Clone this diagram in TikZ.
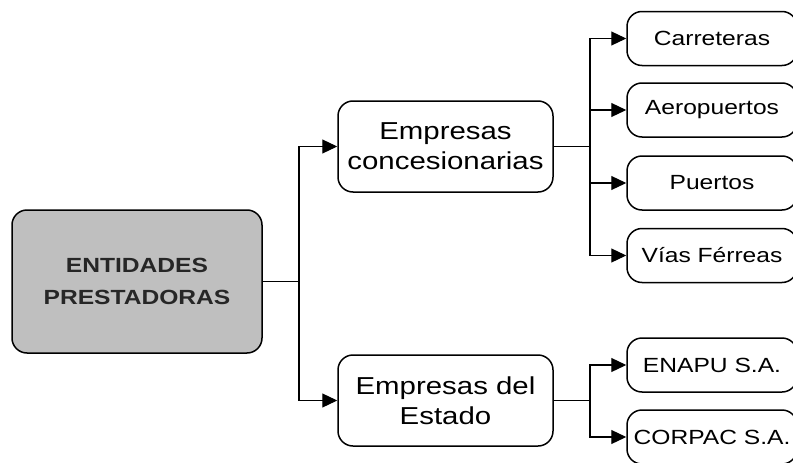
\documentclass[tikz,border=0pt]{standalone}
\usepackage{fontspec}
\setmainfont{Liberation Sans}[FakeStretch=1.2]
\usetikzlibrary{arrows.meta}
\tikzset{
  box/.style={draw=black, line width=1.5pt, rounded corners=15pt, align=center, inner sep=0pt},
  rootbox/.style={box, fill=gray!50, minimum width=250pt, minimum height=143pt,
    font=\fontsize{20.5}{32}\selectfont\bfseries, text=black!85},
  midbox/.style={box, fill=white, minimum width=215pt, minimum height=91pt,
    font=\fontsize{24.5}{30}\selectfont},
  leafbox/.style={box, fill=white, minimum width=170pt, minimum height=54pt,
    font=\fontsize{20.5}{24}\selectfont},
  conn/.style={line width=1.2pt},
  arr/.style={conn, -{Triangle[length=15pt,width=14pt]}},
}
\begin{document}
\begin{tikzpicture}[x=1pt,y=-1pt]
\useasboundingbox (0,0) rectangle (793,463);
\clip (0,0) rectangle (793,463);
\node[rootbox] (root) at (137,281.5) {ENTIDADES\\PRESTADORAS};
\node[midbox] (conc) at (445.5,146.5) {Empresas\\concesionarias};
\node[midbox] (estado) at (445.5,400.5) {Empresas del\\Estado};
\node[leafbox] (carr) at (712,38.5) {Carreteras};
\node[leafbox] (aero) at (712,110) {Aeropuertos};
\node[leafbox] (puer) at (712,183) {Puertos};
\node[leafbox] (vias) at (712,255.5) {Vías Férreas};
\node[leafbox] (enapu) at (712,365) {ENAPU S.A.};
\node[leafbox] (corpac) at (712,437) {CORPAC S.A.};
\coordinate (j0) at (299,281.5);
\coordinate (j1) at (590,146.5);
\coordinate (j2) at (590,400.5);
\draw[conn] (root.east) -- (j0);
\draw[arr] (j0) |- (conc.west);
\draw[arr] (j0) |- (estado.west);
\draw[conn] (conc.east) -- (j1);
\draw[arr] (j1) |- (carr.west);
\draw[arr] (j1) |- (aero.west);
\draw[arr] (j1) |- (puer.west);
\draw[arr] (j1) |- (vias.west);
\draw[conn] (estado.east) -- (j2);
\draw[arr] (j2) |- (enapu.west);
\draw[arr] (j2) |- (corpac.west);
\end{tikzpicture}
\end{document}
